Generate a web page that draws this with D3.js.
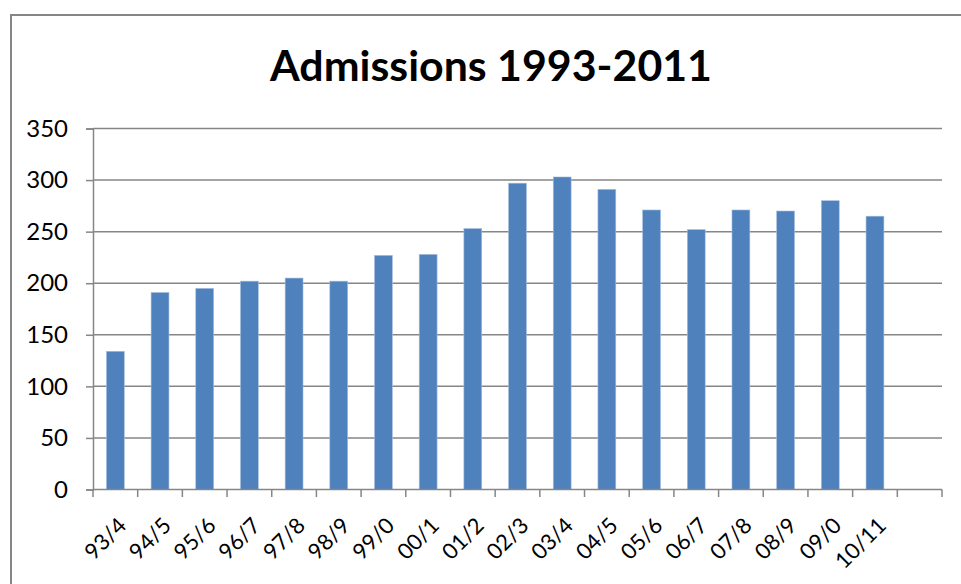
<!DOCTYPE html>
<html>
<head>
<meta charset="utf-8">
<script src="https://cdn.jsdelivr.net/npm/d3@7"></script>
<style>
  html, body { margin: 0; padding: 0; background: #fff; }
  svg { display: block; }
</style>
</head>
<body>
<svg id="chart" width="961" height="584"></svg>
<script>
// Academic-year admissions, 1993/4 to 10/11
const years = ["93/4","94/5","95/6","96/7","97/8","98/9","99/0","00/1","01/2","02/3",
               "03/4","04/5","05/6","06/7","07/8","08/9","09/0","10/11"];
const admissions = [134,191,195,202,205,202,227,228,253,297,303,291,271,252,271,270,280,265];
// the category axis carries one empty slot after the last year
const slots = years.concat([""]);
const yTicks = [0,50,100,150,200,250,300,350];

const svg = d3.select("#chart");
const font = "Lato, 'Open Sans', sans-serif";
const grey = "#868686";

// outer chart frame (runs past the right and bottom edges)
svg.append("rect")
  .attr("x", 11).attr("y", 15)
  .attr("width", 1000).attr("height", 1000)
  .attr("fill", "#fff").attr("stroke", grey).attr("stroke-width", 2);

const plot = { left: 93, right: 942, top: 128.5, bottom: 489.5 };

const x = d3.scaleBand().domain(slots).range([plot.left, plot.right]).paddingInner(0).paddingOuter(0);
const y = d3.scaleLinear().domain([0, 350]).range([plot.bottom, plot.top]);

// title
svg.append("text")
  .attr("x", 491).attr("y", 81)
  .attr("text-anchor", "middle")
  .attr("font-family", font).attr("font-weight", 700)
  .attr("font-size", 42)
  .attr("textLength", 442).attr("lengthAdjust", "spacingAndGlyphs")
  .attr("fill", "#000")
  .text("Admissions 1993-2011");

// horizontal gridlines
svg.append("g").selectAll("line")
  .data(yTicks.filter(d => d > 0))
  .join("line")
  .attr("x1", plot.left).attr("x2", plot.right)
  .attr("y1", d => y(d)).attr("y2", d => y(d))
  .attr("stroke", grey).attr("stroke-width", 1.5);

// y axis
const yAxis = svg.append("g")
  .attr("transform", `translate(${plot.left},0)`)
  .call(d3.axisLeft(y).tickValues(yTicks).tickSize(7).tickPadding(18));
yAxis.select(".domain").attr("stroke", grey).attr("stroke-width", 1.5);
yAxis.selectAll(".tick line").attr("stroke", grey).attr("stroke-width", 1.5);
yAxis.selectAll(".tick text")
  .attr("font-family", font).attr("font-size", 24).attr("fill", "#000");

// bars: width is 1 / (1 + 1.5 gap) of the slot
const barW = x.bandwidth() / 2.5;
svg.append("g").selectAll("rect")
  .data(years.map((k, i) => ({ k, v: admissions[i] })))
  .join("rect")
  .attr("x", d => x(d.k) + (x.bandwidth() - barW) / 2)
  .attr("width", barW)
  .attr("y", d => y(d.v))
  .attr("height", d => y(0) - y(d.v))
  .attr("fill", "#4f81bd")
  .attr("stroke", "#a7bfde").attr("stroke-width", 0.6);

// category axis: baseline and tick marks at slot boundaries
const xg = svg.append("g");
xg.append("line")
  .attr("x1", plot.left).attr("x2", plot.right)
  .attr("y1", plot.bottom).attr("y2", plot.bottom)
  .attr("stroke", grey).attr("stroke-width", 1.5);
xg.selectAll("line.tk")
  .data(d3.range(slots.length + 1))
  .join("line").attr("class", "tk")
  .attr("x1", i => plot.left + i * x.step()).attr("x2", i => plot.left + i * x.step())
  .attr("y1", plot.bottom).attr("y2", plot.bottom + 7.5)
  .attr("stroke", grey).attr("stroke-width", 1.5);

// rotated year labels
xg.selectAll("text")
  .data(years)
  .join("text")
  .attr("transform", d => `translate(${x(d) + x.bandwidth() / 2 + 7},${plot.bottom + 32}) rotate(-45)`)
  .attr("text-anchor", "end")
  .attr("dy", "0.35em")
  .attr("font-family", font).attr("font-size", 22)
  .attr("fill", "#000")
  .text(d => d);
</script>
</body>
</html>
